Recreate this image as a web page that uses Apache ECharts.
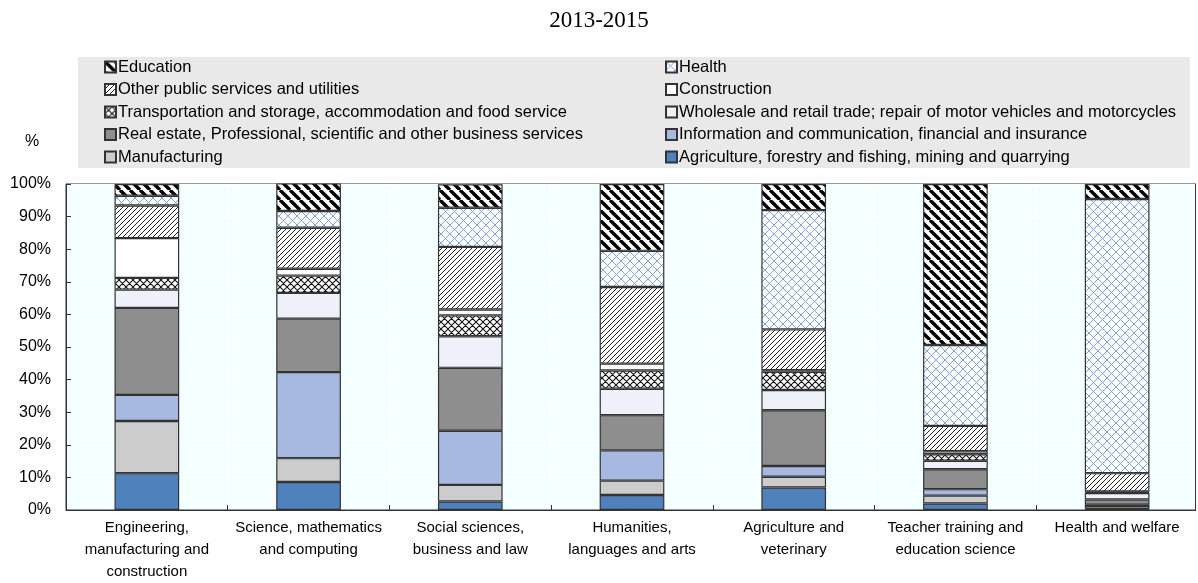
<!DOCTYPE html>
<html>
<head>
<meta charset="utf-8">
<script src="https://cdn.jsdelivr.net/npm/echarts@6/dist/echarts.min.js"></script>
<style>
html,body{margin:0;padding:0;background:#fff;}
#chart{width:1198px;height:583px;}
</style>
</head>
<body>
<div id="chart"></div>
<script>
// ---- data ----
const title = "2013-2015";
const categories = [
  "Engineering,\nmanufacturing and\nconstruction",
  "Science, mathematics\nand computing",
  "Social sciences,\nbusiness and law",
  "Humanities,\nlanguages and arts",
  "Agriculture and\nveterinary",
  "Teacher training and\neducation science",
  "Health and welfare"
];
const seriesNames = [
  "Agriculture, forestry and fishing, mining and quarrying",
  "Manufacturing",
  "Information and communication, financial and insurance",
  "Real estate, Professional, scientific and other business services",
  "Wholesale and retail trade; repair of motor vehicles and motorcycles",
  "Transportation and storage, accommodation and food service",
  "Construction",
  "Other public services and utilities",
  "Health",
  "Education"
];
const agriculture   = [11.3, 8.6, 2.6, 4.6, 6.9, 2.0, 0.3];
const manufacturing = [16.0, 7.3, 5.1, 4.4, 3.3, 2.4, 0.9];
const information   = [8.0, 26.4, 16.6, 9.3, 3.3, 2.0, 0.4];
const realEstate    = [26.7, 16.4, 19.3, 10.8, 17.1, 6.1, 1.6];
const wholesale     = [5.6, 7.9, 9.7, 8.1, 6.2, 2.6, 2.0];
const transport     = [3.6, 5.3, 6.4, 5.6, 5.6, 2.0, 0.3];
const construction  = [12.2, 2.1, 1.8, 2.1, 0.5, 0.9, 0.2];
const otherPublic   = [10.0, 12.6, 19.2, 23.5, 12.5, 7.8, 5.6];
const health        = [3.0, 5.1, 12.0, 11.1, 36.6, 24.8, 84.1];
const education     = [3.6, 8.5, 7.2, 20.5, 8.0, 49.4, 4.6];
const seriesValues = [agriculture, manufacturing, information, realEstate, wholesale,
                      transport, construction, otherPublic, health, education];
const yTicks = [0, 10, 20, 30, 40, 50, 60, 70, 80, 90, 100];

// ---- patterns ----
function makePattern(size, bg, draw) {
  const c = document.createElement('canvas');
  c.width = size; c.height = size;
  const ctx = c.getContext('2d');
  ctx.fillStyle = bg; ctx.fillRect(0, 0, size, size);
  draw(ctx, size);
  return { image: c, repeat: 'repeat' };
}
function back(ctx, s) { for (let k = -1; k <= 1; k++) { ctx.moveTo(k * s, 0); ctx.lineTo(k * s + s, s); } }
function fwd(ctx, s) { for (let k = -1; k <= 1; k++) { ctx.moveTo(k * s, s); ctx.lineTo(k * s + s, 0); } }

const eduPat = makePattern(10, '#ffffff', (ctx, s) => { ctx.beginPath(); back(ctx, s); ctx.strokeStyle = '#000'; ctx.lineWidth = 3.4; ctx.stroke(); });
const healthPat = makePattern(9, '#ffffff', (ctx, s) => { ctx.beginPath(); back(ctx, s); fwd(ctx, s); ctx.strokeStyle = '#7fa5d8'; ctx.lineWidth = 1; ctx.stroke(); });
const otherPat = makePattern(5, '#ffffff', (ctx, s) => { ctx.beginPath(); fwd(ctx, s); ctx.strokeStyle = '#222'; ctx.lineWidth = 1; ctx.stroke(); });
const transPat = makePattern(7, '#ffffff', (ctx, s) => { ctx.beginPath(); back(ctx, s); fwd(ctx, s); ctx.strokeStyle = '#111'; ctx.lineWidth = 1.1; ctx.stroke(); });

const fills = ['#4f81bd', '#cccccc', '#a7b9e1', '#8e8e8e', '#eef1f9', transPat, '#ffffff', otherPat, healthPat, eduPat];

const font = 'Arial, "Liberation Sans", sans-serif';

const chart = echarts.init(document.getElementById('chart'), null, { renderer: 'canvas' });

const series = seriesNames.map((name, i) => ({
  name: name,
  type: 'bar',
  stack: 'total',
  barWidth: '40%',
  data: seriesValues[i],
  itemStyle: { color: fills[i], borderColor: '#333', borderWidth: 1.2 },
  emphasis: { disabled: true }
}));

const leftNames = [seriesNames[9], seriesNames[7], seriesNames[5], seriesNames[3], seriesNames[1]];
const rightNames = [seriesNames[8], seriesNames[6], seriesNames[4], seriesNames[2], seriesNames[0]];

function legendCfg(names, left) {
  return {
    orient: 'vertical',
    left: left,
    top: 56,
    itemWidth: 11,
    itemHeight: 11,
    itemGap: 0.5,
    icon: 'rect',
    selectedMode: false,
    data: names,
    textStyle: { fontFamily: font, fontSize: 16.5, color: '#000', lineHeight: 22, padding: [0, 0, 0, -3] },
    padding: 0
  };
}

chart.setOption({
  animation: false,
  backgroundColor: '#ffffff',
  title: {
    text: title, left: 'center', top: 4,
    textStyle: { fontFamily: '"Liberation Serif", "Times New Roman", serif', fontSize: 23, fontWeight: 'normal', color: '#000' }
  },
  graphic: [
    { type: 'rect', left: 78, top: 57, z: -10, shape: { width: 1112, height: 111 }, style: { fill: '#e9e9e9' } },
    { type: 'text', left: 25, top: 134, style: { text: '%', fontFamily: font, fontSize: 16, fill: '#000' } },
    { type: 'rect', left: 1196, top: 180, z: 100, shape: { width: 4, height: 340 }, style: { fill: '#ffffff' } },
    { type: 'line', z: 101, shape: { x1: 1195.5, y1: 184, x2: 1195.5, y2: 511 }, style: { stroke: '#333', lineWidth: 1 } }
  ],
  legend: [legendCfg(leftNames, 104), legendCfg(rightNames, 665)],
  grid: {
    left: 66, right: -4, top: 184, bottom: 72,
    show: true, backgroundColor: '#f4ffff', borderColor: '#333', borderWidth: 1
  },
  xAxis: {
    type: 'category',
    data: categories,
    axisLine: { show: true, lineStyle: { color: '#333' } },
    axisTick: { show: true, inside: true, length: 5, lineStyle: { color: '#333' } },
    splitLine: { show: true, lineStyle: { color: '#ffffff', width: 1 } },
    axisLabel: { interval: 0, fontFamily: font, fontSize: 15, color: '#000', lineHeight: 22, margin: 7 }
  },
  yAxis: {
    type: 'value',
    min: yTicks[0], max: yTicks[yTicks.length - 1], interval: 10,
    axisLine: { show: true, lineStyle: { color: '#333' } },
    axisTick: { show: true, inside: true, length: 5, lineStyle: { color: '#333' } },
    splitLine: { show: true, lineStyle: { color: '#ffffff', width: 1 } },
    axisLabel: { formatter: '{value}%', fontFamily: font, fontSize: 16, color: '#000', margin: 15 }
  },
  series: series
});
</script>
</body>
</html>
